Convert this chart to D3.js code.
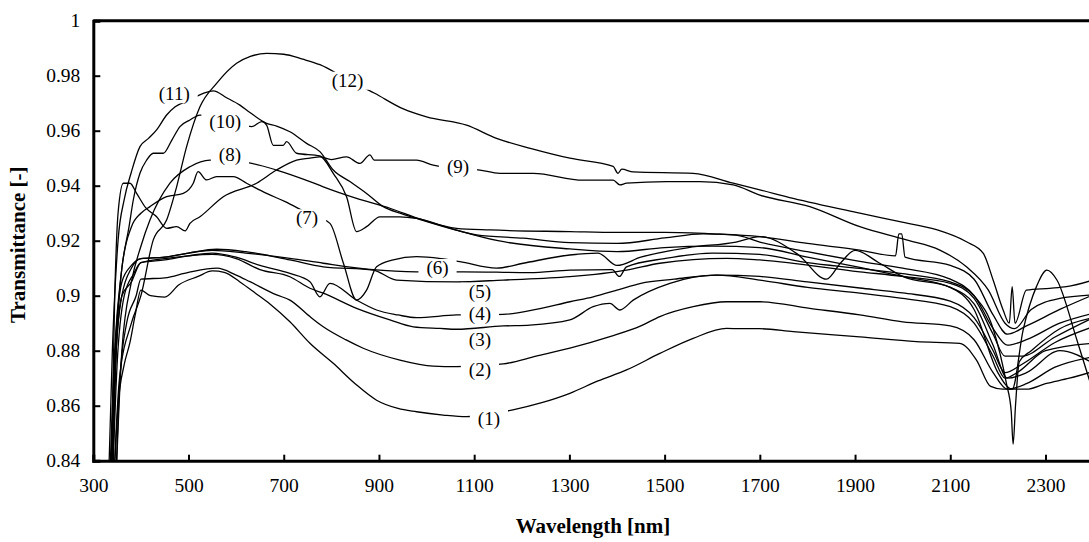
<html>
<head>
<script src="https://d3js.org/d3.v7.min.js"></script>
<style>
  body { margin: 0; background: #fff; }
  text { font-family: "Liberation Serif", "Times New Roman", serif; fill: #000; }
</style>
</head>
<body>
<script>

// ticks
var xTicks = [300, 500, 700, 900, 1100, 1300, 1500, 1700, 1900, 2100, 2300];
var yTicks = [0.84, 0.86, 0.88, 0.9, 0.92, 0.94, 0.96, 0.98, 1];

// spectra, [wavelength nm, transmittance]
var s1 = [[340,0.82],[352,0.86],[365,0.875],[377,0.883],[388,0.893],[400,0.902],[420,0.9],[450,0.8995],[480,0.904],[520,0.907],[550,0.909],[575,0.9085],[608,0.905],[640,0.901],[671,0.897],[713,0.8905],[755,0.8827],[804,0.8754],[850,0.868],[895,0.862],[940,0.859],[979,0.8578],[1035,0.8566],[1084,0.856],[1179,0.8584],[1240,0.861],[1301,0.8645],[1360,0.869],[1420,0.873],[1490,0.879],[1560,0.8845],[1630,0.8881],[1660,0.888],[1700,0.888],[1770,0.8869],[1910,0.885],[2029,0.8833],[2120,0.8827],[2155,0.8766],[2185,0.867],[2210,0.866],[2260,0.866],[2300,0.868],[2350,0.87],[2400,0.8724]];
var s2 = [[345,0.82],[356,0.87],[370,0.89],[390,0.9],[400,0.906],[450,0.9065],[500,0.9085],[560,0.91],[600,0.9075],[629,0.9051],[685,0.9003],[713,0.8984],[755,0.8924],[783,0.8887],[830,0.884],[867,0.8809],[944,0.8766],[1014,0.8744],[1063,0.8742],[1161,0.8752],[1230,0.878],[1301,0.8809],[1385,0.8851],[1450,0.889],[1490,0.8924],[1560,0.896],[1630,0.8978],[1700,0.8978],[1805,0.8954],[1910,0.893],[2000,0.8905],[2100,0.889],[2150,0.884],[2190,0.872],[2220,0.866],[2260,0.868],[2320,0.874],[2400,0.8778]];
var s3 = [[335,0.82],[345,0.87],[360,0.9],[380,0.905],[400,0.912],[450,0.9135],[500,0.9145],[550,0.915],[600,0.9135],[650,0.9095],[713,0.9069],[755,0.9027],[783,0.9009],[853,0.8954],[923,0.8912],[972,0.8887],[1028,0.8881],[1063,0.8878],[1161,0.889],[1217,0.8893],[1301,0.8912],[1350,0.896],[1385,0.8972],[1406,0.8948],[1434,0.8984],[1511,0.9045],[1609,0.9075],[1700,0.9057],[1800,0.903],[1910,0.9009],[2000,0.899],[2100,0.896],[2150,0.89],[2190,0.878],[2215,0.87],[2240,0.872],[2300,0.88],[2400,0.8827]];
var s4 = [[338,0.82],[350,0.875],[365,0.9],[385,0.908],[400,0.912],[450,0.913],[500,0.9145],[550,0.9155],[600,0.914],[650,0.911],[713,0.9081],[755,0.9051],[776,0.8996],[797,0.9045],[853,0.8984],[895,0.8948],[940,0.893],[979,0.892],[1063,0.893],[1161,0.8932],[1230,0.895],[1301,0.8978],[1350,0.8996],[1400,0.902],[1450,0.9045],[1520,0.906],[1609,0.9075],[1700,0.907],[1800,0.905],[1910,0.9028],[2000,0.901],[2100,0.898],[2150,0.892],[2190,0.88],[2215,0.872],[2250,0.875],[2320,0.883],[2400,0.8887]];
var s5 = [[336,0.82],[348,0.88],[360,0.9],[380,0.91],[400,0.9135],[450,0.914],[500,0.9155],[559,0.9169],[620,0.916],[713,0.913],[783,0.9105],[888,0.9093],[937,0.9057],[1063,0.905],[1161,0.9057],[1301,0.9069],[1420,0.9093],[1490,0.9118],[1630,0.9136],[1700,0.913],[1910,0.9087],[2000,0.907],[2100,0.9045],[2150,0.899],[2190,0.886],[2215,0.878],[2250,0.878],[2320,0.885],[2400,0.892]];
var s6 = [[334,0.82],[346,0.88],[360,0.905],[380,0.911],[400,0.9135],[450,0.914],[500,0.9155],[550,0.9165],[620,0.9155],[713,0.9136],[783,0.9118],[881,0.9096],[979,0.9087],[1077,0.9087],[1217,0.9084],[1301,0.9093],[1390,0.9095],[1405,0.907],[1420,0.9105],[1500,0.9135],[1600,0.9155],[1700,0.915],[1800,0.912],[1910,0.9099],[2000,0.908],[2100,0.905],[2150,0.9],[2190,0.888],[2220,0.882],[2260,0.884],[2330,0.89],[2400,0.8936]];
var s7 = [[338,0.82],[348,0.88],[360,0.91],[380,0.925],[400,0.93],[419,0.9324],[454,0.936],[489,0.9372],[510,0.9409],[520,0.9451],[538,0.9421],[559,0.9433],[594,0.9433],[622,0.9409],[664,0.9372],[703,0.9342],[750,0.93],[797,0.9263],[825,0.912],[853,0.8984],[874,0.902],[895,0.9105],[930,0.913],[979,0.9142],[1030,0.9135],[1070,0.9124],[1147,0.91],[1203,0.9118],[1301,0.9148],[1360,0.9155],[1400,0.911],[1450,0.914],[1550,0.9175],[1650,0.9195],[1700,0.9215],[1780,0.915],[1840,0.906],[1870,0.912],[1900,0.9165],[1950,0.912],[2000,0.907],[2100,0.903],[2150,0.895],[2200,0.872],[2230,0.866],[2253,0.8875],[2281,0.9033],[2303,0.9093],[2324,0.9057],[2366,0.8839],[2400,0.865]];
var s8 = [[345,0.82],[360,0.88],[380,0.905],[400,0.918],[419,0.9275],[461,0.9409],[503,0.9469],[545,0.9493],[580,0.949],[633,0.9481],[685,0.9457],[755,0.9415],[783,0.9396],[853,0.9354],[923,0.9318],[993,0.9275],[1063,0.9245],[1133,0.9239],[1301,0.9233],[1400,0.923],[1500,0.923],[1600,0.9225],[1700,0.9215],[1800,0.919],[1910,0.9166],[1985,0.9145],[1992,0.9225],[1998,0.9225],[2005,0.914],[2100,0.911],[2150,0.906],[2190,0.893],[2220,0.886],[2260,0.889],[2330,0.895],[2400,0.9003]];
var s9 = [[336,0.82],[345,0.9],[352,0.93],[363,0.9409],[377,0.9409],[391,0.9372],[410,0.932],[433,0.9287],[454,0.9245],[475,0.9251],[493,0.9236],[503,0.9263],[524,0.9287],[573,0.936],[643,0.9409],[685,0.9457],[727,0.9493],[755,0.95],[776,0.9505],[800,0.9495],[832,0.9505],[860,0.9481],[881,0.9512],[890,0.9493],[944,0.9493],[979,0.9493],[1014,0.9475],[1112,0.9457],[1154,0.9445],[1224,0.9445],[1329,0.942],[1392,0.942],[1406,0.9403],[1420,0.9409],[1504,0.9415],[1574,0.9415],[1644,0.9403],[1700,0.9366],[1805,0.9324],[1910,0.9251],[2008,0.9203],[2078,0.9166],[2134,0.9105],[2180,0.902],[2215,0.89],[2235,0.888],[2270,0.895],[2330,0.899],[2400,0.9003]];
var s10 = [[332,0.82],[345,0.88],[360,0.91],[375,0.925],[384,0.9348],[398,0.9445],[412,0.9493],[426,0.9518],[447,0.9518],[465,0.9566],[482,0.9615],[503,0.9639],[524,0.9657],[560,0.9655],[600,0.963],[633,0.9615],[654,0.9633],[664,0.962],[678,0.9547],[699,0.9547],[706,0.956],[727,0.9518],[776,0.9508],[804,0.9445],[832,0.936],[853,0.9233],[874,0.9251],[902,0.9287],[944,0.9287],[979,0.9281],[1050,0.9245],[1150,0.92],[1301,0.917],[1400,0.916],[1500,0.9175],[1600,0.918],[1700,0.9175],[1800,0.914],[1910,0.9103],[2000,0.907],[2100,0.903],[2150,0.897],[2190,0.882],[2220,0.87],[2260,0.872],[2330,0.88],[2400,0.8754]];
var s11 = [[330,0.82],[340,0.88],[352,0.92],[365,0.935],[380,0.945],[398,0.9542],[416,0.9572],[433,0.9603],[454,0.9657],[472,0.9687],[500,0.971],[531,0.9736],[552,0.9745],[580,0.972],[608,0.9693],[629,0.9666],[664,0.9627],[685,0.9617],[713,0.9596],[748,0.9554],[776,0.9524],[804,0.9457],[839,0.9415],[874,0.9372],[909,0.9324],[944,0.93],[979,0.9281],[1049,0.9245],[1105,0.9221],[1203,0.9209],[1301,0.9193],[1400,0.919],[1500,0.921],[1580,0.9225],[1650,0.922],[1700,0.9195],[1800,0.916],[1910,0.9125],[2000,0.91],[2100,0.906],[2150,0.9],[2190,0.888],[2218,0.868],[2228,0.858],[2232,0.846],[2237,0.86],[2245,0.876],[2270,0.88],[2330,0.888],[2400,0.892]];
var s12 = [[340,0.82],[355,0.87],[380,0.89],[400,0.9],[426,0.9203],[454,0.9275],[475,0.9396],[496,0.9542],[524,0.9687],[559,0.9772],[601,0.9845],[630,0.987],[664,0.9881],[700,0.9878],[740,0.986],[776,0.984],[830,0.979],[891,0.9736],[950,0.968],[1000,0.965],[1084,0.962],[1147,0.9572],[1220,0.9535],[1301,0.95],[1392,0.947],[1402,0.9445],[1410,0.946],[1434,0.945],[1560,0.9445],[1644,0.9409],[1700,0.9385],[1770,0.9354],[1910,0.93],[1994,0.9269],[2071,0.924],[2134,0.9196],[2169,0.9155],[2190,0.9057],[2211,0.8948],[2224,0.89],[2230,0.9033],[2236,0.89],[2260,0.902],[2309,0.9027],[2344,0.9033],[2400,0.9057]];

var series = [s1, s2, s3, s4, s5, s6, s7, s8, s9, s10, s11, s12];
var seriesNames = ["(1)", "(2)", "(3)", "(4)", "(5)", "(6)", "(7)", "(8)", "(9)", "(10)", "(11)", "(12)"];
// where each name sits, in data units
var labelAt = [[1131,0.8555],[1112,0.8733],[1112,0.8843],[1112,0.8937],[1112,0.9017],[1023,0.9103],[749,0.9284],[587,0.9513],[1066,0.947],[577,0.9633],[470,0.9735],[834,0.9784]];

var W = 1089, H = 542;
var svg = d3.select("body").append("svg").attr("width", W).attr("height", H);

var x = d3.scaleLinear().domain([300, 2400]).range([93.3, 1093.1]);
var y = d3.scaleLinear().domain([0.84, 1]).range([460.7, 20.7]);

svg.append("clipPath").attr("id", "plot")
  .append("rect").attr("x", x(300)).attr("y", y(1)).attr("width", x(2400) - x(300)).attr("height", y(0.84) - y(1));

var line = d3.line()
  .x(function(d) { return x(d[0]); })
  .y(function(d) { return y(d[1]); })
  .curve(d3.curveMonotoneX);

var g = svg.append("g").attr("clip-path", "url(#plot)");
g.selectAll("path.s").data(series).enter().append("path")
  .attr("class", "s")
  .attr("d", line)
  .attr("fill", "none")
  .attr("stroke", "#000")
  .attr("stroke-width", 1.3);

// labels sit in a white gap cut out of the curves
var lab = svg.append("g").selectAll("g").data(seriesNames).enter().append("g")
  .attr("transform", function(d, i) { return "translate(" + x(labelAt[i][0]) + "," + y(labelAt[i][1]) + ")"; });
lab.append("text")
  .attr("text-anchor", "middle")
  .attr("dy", "0.35em")
  .style("font-size", "19px")
  .text(function(d) { return d; });
lab.insert("rect", "text")
  .attr("fill", "#fff")
  .each(function() {
    var b = this.parentNode.querySelector("text").getBBox();
    d3.select(this).attr("x", b.x - 8).attr("y", b.y + 2).attr("width", b.width + 16).attr("height", b.height - 4);
  });

// axes
var xAxis = svg.append("g").attr("transform", "translate(0," + y(0.84) + ")")
  .call(d3.axisBottom(x).tickValues(xTicks).tickSize(-6).tickPadding(14).tickFormat(d3.format("d")));
var yAxis = svg.append("g").attr("transform", "translate(" + x(300) + ",0)")
  .call(d3.axisLeft(y).tickValues(yTicks).tickSize(-7).tickPadding(13).tickFormat(function(d) { return d === 1 ? "1" : d3.format(".2f")(d).replace(/0$/, ""); }));

[xAxis, yAxis].forEach(function(a) {
  a.select(".domain").attr("stroke", "#000").attr("stroke-width", 3);
  a.selectAll(".tick line").attr("stroke", "#000").attr("stroke-width", 2);
  a.selectAll(".tick text").style("font-size", "19.5px").attr("font-family", "Liberation Serif");
});
xAxis.selectAll(".tick text").attr("dy", "0.9em");

// top border
svg.append("line").attr("x1", x(300)).attr("x2", x(2400)).attr("y1", y(1)).attr("y2", y(1))
  .attr("stroke", "#000").attr("stroke-width", 3);

svg.append("text")
  .attr("x", 593).attr("y", 533)
  .attr("text-anchor", "middle")
  .style("font-size", "21px").style("font-weight", "bold")
  .text("Wavelength [nm]");

svg.append("text")
  .attr("transform", "translate(25," + ((y(1) + y(0.84)) / 2 + 4) + ") rotate(-90)")
  .attr("text-anchor", "middle")
  .style("font-size", "21px").style("font-weight", "bold")
  .text("Transmittance [-]");

</script>
</body>
</html>
